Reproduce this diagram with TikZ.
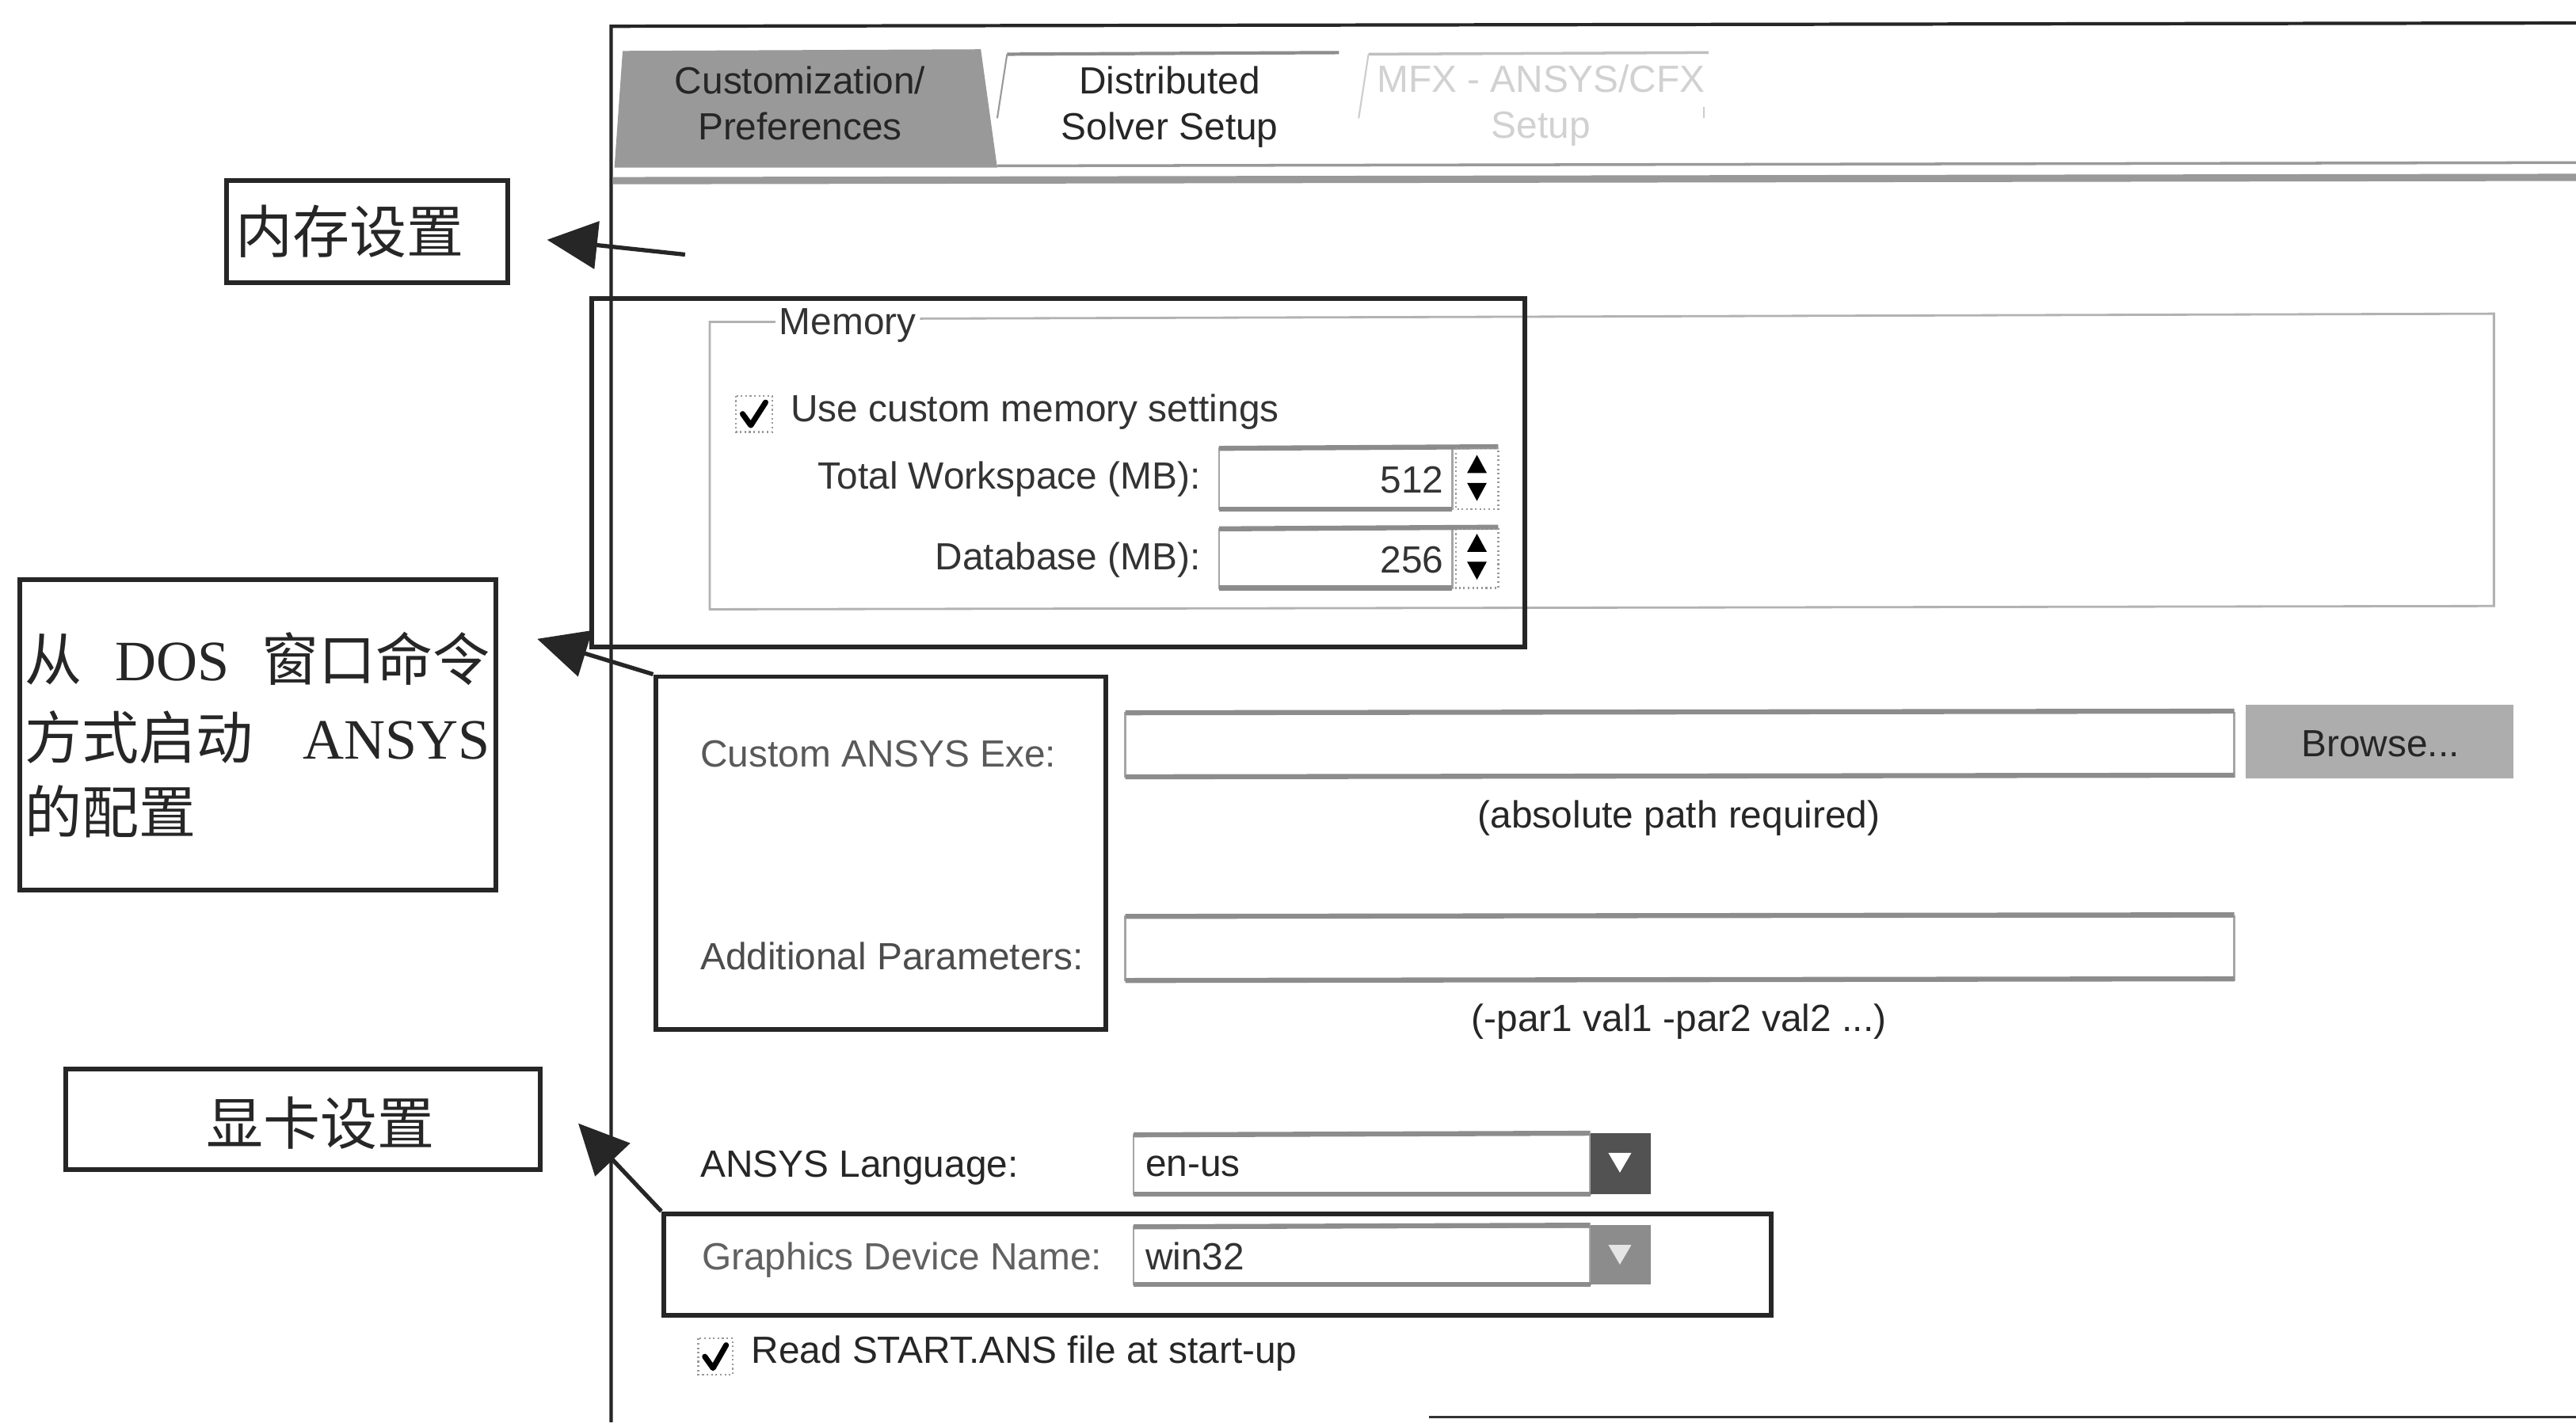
\documentclass[tikz,border=0pt]{standalone}
\usepackage{fontspec}
\setmainfont{Liberation Sans}
\newfontfamily\cjk{Noto Sans CJK SC}
\newfontfamily\tms{Liberation Serif}
\usetikzlibrary{arrows.meta,fit}
\begin{document}
\begin{tikzpicture}[x=0.02074cm,y=-0.02074cm,
  ui/.style={font=\fontsize{13.6}{16.5}\selectfont, text=black!80, inner sep=0},
  uil/.style={ui, anchor=west},
  uir/.style={ui, anchor=east},
  annot/.style={draw=black!85, line width=1.7pt, inner sep=0},
  callout/.style={draw=black!85, line width=1.5pt, -{Triangle[length=18pt,width=17pt]}},
  field/.style={draw=black!35, line width=0.7pt, fill=white},
  fieldtop/.style={draw=black!45, line width=1.8pt},
  grp/.style={draw=black!30, line width=0.8pt},
  frame/.style={draw=black!85, line width=1.2pt},
  lbl/.style={font=\cjk\fontsize{20.5}{28}\selectfont, inner sep=0, text=black!85},
  tick/.style={draw=black, line width=2pt, line join=round, line cap=round},
  cbox/.style={draw=black!40, line width=0.6pt, densely dotted},
]
\useasboundingbox[fill=white] (0,0) rectangle (1568,866);

% window frame
\draw[frame] (372,866) -- (372,16) -- (1568,14);
\draw[draw=black!80, line width=0.8pt] (870,863) -- (1568,863);

% tabs
\fill[black!40] (374,102) -- (379,31) -- (597,30) -- (607,102) -- cycle;
\node[ui, align=center, text=black!85] (tab1) at (487,63) {Customization/\\Preferences};
\draw[black!45, line width=1.2pt] (613,33) -- (815,32);
\draw[black!40, line width=0.6pt] (613,33) -- (607,72);
\node[ui, align=center, text=black!85] (tab2) at (712,65) {Distributed\\Solver Setup};
\draw[black!25, line width=1pt] (833,33) -- (1040,32);
\draw[black!20, line width=0.6pt] (833,33) -- (827,72);
\draw[black!20, line width=0.6pt] (1037,65) -- (1037,72);
\node[ui, align=center, text=black!18] (tab3) at (938,64) {MFX - ANSYS/CFX\\Setup};
\draw[black!40, line width=1pt] (607,101) -- (1568,99);
\draw[black!40, line width=2.6pt] (373,110) -- (1568,108);

% memory group
\draw[grp] (472,196) -- (432,196) -- (432,371) -- (1518,369) -- (1518,191) -- (560,194);
\node[ui] (memtitle) at (516,198) {Memory};
\draw[cbox] (448,241) rectangle (470,263);
\draw[tick] (452,252) -- (457,259) -- (466,245);
\node[uil] (usemem) at (481,251) {Use custom memory settings};
\node[uir] (tws) at (731,292) {Total Workspace (MB):};
\draw[field] (742,273) rectangle (884,310);
\draw[fieldtop] (742,273) -- (912,272);
\draw[fieldtop] (742,310) -- (884,310);
\node[ui, anchor=east] (v512) at (879,292) {512};
\draw[cbox] (886,273) rectangle (912,310);
\fill[black] (893,288) -- (905,288) -- (899,277) -- cycle;
\fill[black] (893,294) -- (905,294) -- (899,305) -- cycle;
\node[uir] (db) at (731,341) {Database (MB):};
\draw[field] (742,322) rectangle (884,358);
\draw[fieldtop] (742,322) -- (912,321);
\draw[fieldtop] (742,358) -- (884,358);
\node[ui, anchor=east] (v256) at (879,341) {256};
\draw[cbox] (886,322) rectangle (912,358);
\fill[black] (893,336) -- (905,336) -- (899,325) -- cycle;
\fill[black] (893,342) -- (905,342) -- (899,353) -- cycle;

% exe / parameters
\node[uil, text=black!65] (exe) at (426,459) {Custom ANSYS Exe:};
\draw[field] (685,434) rectangle (1360,473);
\draw[fieldtop] (685,434) -- (1360,433);
\draw[fieldtop] (685,473) -- (1360,472);
\fill[black!32] (1367,429) rectangle (1530,474);
\node[ui, text=black!85] (browse) at (1449,453) {Browse...};
\node[ui, text=black!85] (abs) at (1022,498) {(absolute path required)};
\node[uil, text=black!70] (addp) at (426,582) {Additional Parameters:};
\draw[field] (685,558) rectangle (1360,597);
\draw[fieldtop] (685,558) -- (1360,557);
\draw[fieldtop] (685,597) -- (1360,596);
\node[ui, text=black!85] (parhint) at (1022,622) {(-par1 val1 -par2 val2 ...)};

% language / graphics
\node[uil, text=black!85] (lang) at (426,711) {ANSYS Language:};
\draw[field] (690,691) rectangle (968,727);
\draw[fieldtop] (690,691) -- (968,690);
\draw[fieldtop] (690,727) -- (968,727);
\node[uil, text=black!85] (enus) at (697,710) {en-us};
\fill[black!68] (968,690) rectangle (1005,727);
\fill[white] (979,702) -- (993,702) -- (986,714) -- cycle;
\node[uil, text=black!62] (gdev) at (427,767) {Graphics Device Name:};
\draw[field] (690,747) rectangle (968,782);
\draw[fieldtop] (690,747) -- (968,746);
\draw[fieldtop] (690,782) -- (968,782);
\node[uil, text=black!80] (win) at (697,765) {win32};
\fill[black!45] (968,746) rectangle (1005,782);
\fill[black!10] (979,758) -- (993,758) -- (986,770) -- cycle;
\draw[cbox] (425,815) rectangle (446,837);
\draw[tick] (429,826) -- (434,833) -- (442,819);
\node[uil, text=black!85] (readstart) at (457,824) {Read START.ANS file at start-up};

% annotation boxes
\node[annot, fit={(360,182)(928,394)}] (membox) {};
\node[annot, fit={(399,412)(673,627)}] (exebox) {};
\node[annot, fit={(404,739)(1078,801)}] (gfxbox) {};

\node[annot, fit={(138,110)(309,172)}] (memlbl) {};
\node[lbl, anchor=west] (memtxt) at (143,141) {内存设置};

\node[annot, fit={(12,353)(302,542)}] (doslbl) {};
\node[lbl, anchor=west] (dos1) at (15,401) {\hbox to 167pt{从\hfill{\tms DOS}\hfill 窗口命令}};
\node[lbl, anchor=west] (dos2) at (15,449) {\hbox to 167pt{方式启动\hfill{\tms ANSYS}}};
\node[lbl, anchor=west] (dos3) at (15,494) {的配置};

\node[annot, fit={(40,651)(329,712)}] (gfxlbl) {};
\node[lbl] (gfxtxt) at (195,684) {显卡设置};

% callout arrows
\coordinate (a1s) at (417,155);
\coordinate (a1t) at (333,146);
\draw[callout] (a1s) -- (a1t);
\coordinate (a2t) at (327,389);
\draw[callout] (exebox.north west) -- (a2t);
\coordinate (a3t) at (352,684);
\draw[callout] (gfxbox.north west) -- (a3t);
\end{tikzpicture}
\end{document}
